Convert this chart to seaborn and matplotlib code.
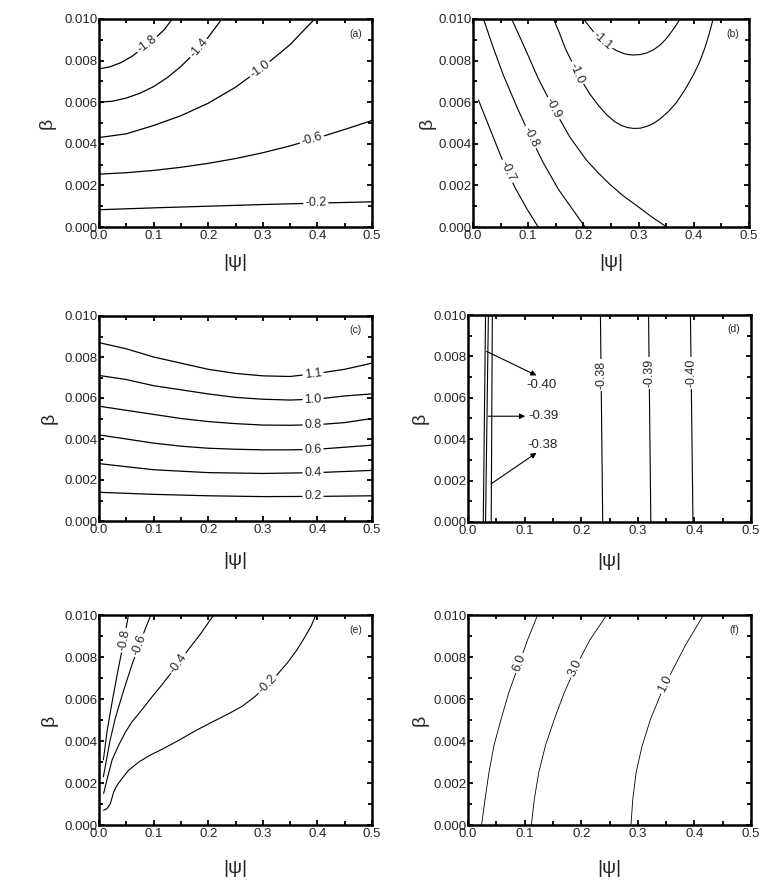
import numpy as np
import matplotlib
matplotlib.use("Agg")
import matplotlib.pyplot as plt
import seaborn as sns
from matplotlib.ticker import MultipleLocator

########
# Data #
########

# panel (a)
a_levels = ["-1.8", "-1.4", "-1.0", "-0.6", "-0.2"]
a_x = [
    [0.0, 0.02, 0.04, 0.06, 0.08, 0.10, 0.12, 0.134],
    [0.0, 0.025, 0.05, 0.075, 0.10, 0.125, 0.15, 0.175, 0.20, 0.225],
    [0.0, 0.05, 0.10, 0.15, 0.20, 0.25, 0.30, 0.35, 0.395],
    [0.0, 0.05, 0.10, 0.15, 0.20, 0.25, 0.30, 0.35, 0.40, 0.45, 0.50],
    [0.0, 0.10, 0.20, 0.30, 0.40, 0.50],
]
a_y = [
    [0.0076, 0.0077, 0.0079, 0.0082, 0.0086, 0.0090, 0.0095, 0.0100],
    [0.0060, 0.00605, 0.0062, 0.00643, 0.00675, 0.00718, 0.00772, 0.00836, 0.00912, 0.0100],
    [0.0043, 0.00448, 0.00488, 0.00535, 0.00595, 0.00672, 0.00768, 0.00877, 0.0100],
    [0.00254, 0.00261, 0.00272, 0.00287, 0.00306, 0.00329, 0.00357, 0.0039, 0.00428, 0.00469, 0.00512],
    [0.00083, 0.00092, 0.00100, 0.00108, 0.00115, 0.00121],
]

# panel (b)
b_levels = ["-0.7", "-0.8", "-0.9", "-1.0", "-1.1"]
b_x = [
    [0.010, 0.025, 0.049, 0.062, 0.076, 0.097, 0.118],
    [0.019, 0.037, 0.055, 0.079, 0.103, 0.127, 0.155, 0.179, 0.203],
    [0.070, 0.094, 0.118, 0.146, 0.176, 0.206, 0.227, 0.248, 0.272, 0.297, 0.324, 0.351],
    [0.146, 0.157, 0.167, 0.178, 0.188, 0.200, 0.212, 0.227, 0.242, 0.256, 0.269, 0.280, 0.291,
     0.303, 0.315, 0.327, 0.339, 0.354, 0.369, 0.384, 0.399, 0.410, 0.420, 0.428, 0.435],
    [0.200, 0.212, 0.224, 0.236, 0.248, 0.260, 0.272, 0.281, 0.291, 0.303, 0.315, 0.327, 0.339,
     0.350, 0.360, 0.368, 0.375],
]
b_y = [
    [0.0061, 0.0051, 0.0035, 0.0027, 0.0019, 0.0009, 0.0],
    [0.0100, 0.0086, 0.0073, 0.0058, 0.0044, 0.0031, 0.0018, 0.0009, 0.0],
    [0.0100, 0.0086, 0.00715, 0.0057, 0.0043, 0.0032, 0.0026, 0.00205, 0.0015, 0.00102, 0.00048, 0.0],
    [0.0100, 0.0093, 0.0086, 0.0080, 0.0074, 0.0069, 0.00638, 0.00585, 0.0054, 0.00508, 0.00488,
     0.00478, 0.00474, 0.00475, 0.00484, 0.00498, 0.0052, 0.00555, 0.0060, 0.0066, 0.0073, 0.0079,
     0.0086, 0.0093, 0.0100],
    [0.0100, 0.0096, 0.0092, 0.00892, 0.00867, 0.00848, 0.00835, 0.00829, 0.00827, 0.00829,
     0.00837, 0.00852, 0.00875, 0.00905, 0.0094, 0.0097, 0.0100],
]

# panel (c)
c_levels = ["1.1", "1.0", "0.8", "0.6", "0.4", "0.2"]
c_x = [
    [0.0, 0.05, 0.10, 0.15, 0.20, 0.25, 0.30, 0.35, 0.40, 0.45, 0.50],
    [0.0, 0.05, 0.10, 0.15, 0.20, 0.25, 0.30, 0.35, 0.40, 0.45, 0.50],
    [0.0, 0.05, 0.10, 0.15, 0.20, 0.25, 0.30, 0.35, 0.40, 0.45, 0.50],
    [0.0, 0.05, 0.10, 0.15, 0.20, 0.25, 0.30, 0.35, 0.40, 0.45, 0.50],
    [0.0, 0.10, 0.20, 0.30, 0.40, 0.50],
    [0.0, 0.10, 0.20, 0.30, 0.40, 0.50],
]
c_y = [
    [0.0087, 0.0084, 0.0080, 0.0077, 0.0074, 0.0072, 0.00708, 0.00705, 0.0072, 0.0074, 0.0077],
    [0.0071, 0.0069, 0.0066, 0.0064, 0.0062, 0.00603, 0.00594, 0.0059, 0.00595, 0.0061, 0.0062],
    [0.0056, 0.0054, 0.0052, 0.0050, 0.00485, 0.00475, 0.00468, 0.00467, 0.0047, 0.0048, 0.0050],
    [0.0042, 0.0040, 0.0038, 0.00365, 0.00355, 0.0035, 0.00347, 0.00347, 0.0035, 0.0036, 0.0037],
    [0.0028, 0.0025, 0.00236, 0.00232, 0.00236, 0.00247],
    [0.0014, 0.0013, 0.00123, 0.00119, 0.0012, 0.00123],
]

# panel (d)
d_levels = ["-0.40", "-0.39", "-0.38", "-0.38", "-0.39", "-0.40"]
d_x = [
    [0.027, 0.031],
    [0.031, 0.036],
    [0.041, 0.043],
    [0.238, 0.234],
    [0.323, 0.319],
    [0.3975, 0.393],
]
d_y = [
    [0.0, 0.010],
    [0.0, 0.010],
    [0.0, 0.010],
    [0.0, 0.010],
    [0.0, 0.010],
    [0.0, 0.010],
]

# panel (e)
e_levels = ["-0.8", "-0.6", "-0.4", "-0.2"]
e_x = [
    [0.008, 0.015, 0.025, 0.035, 0.045, 0.054],
    [0.008, 0.020, 0.030, 0.045, 0.060, 0.075, 0.095],
    [0.0085, 0.015, 0.024, 0.036, 0.048, 0.060, 0.079, 0.097, 0.116, 0.140, 0.162, 0.186, 0.210],
    [0.0085, 0.0147, 0.0208, 0.0269, 0.033, 0.042, 0.054, 0.073, 0.091, 0.115, 0.146, 0.176,
     0.207, 0.2375, 0.262, 0.285, 0.305, 0.325, 0.345, 0.362, 0.377, 0.389, 0.397],
]
e_y = [
    [0.0031, 0.0045, 0.0060, 0.0074, 0.0087, 0.0100],
    [0.0023, 0.0040, 0.0051, 0.0064, 0.0076, 0.0087, 0.0100],
    [0.0015, 0.0022, 0.0031, 0.0038, 0.0044, 0.0049, 0.0055, 0.0061, 0.0067, 0.0075, 0.0083,
     0.0091, 0.0100],
    [0.0007, 0.00078, 0.00102, 0.00157, 0.00189, 0.00221, 0.0026, 0.0030, 0.00329, 0.0036,
     0.00403, 0.00448, 0.0049, 0.0053, 0.00565, 0.0061, 0.00658, 0.00712, 0.00772, 0.00832,
     0.00895, 0.0095, 0.0100],
]

# panel (f)
f_levels = ["6.0", "3.0", "1.0"]
f_x = [
    [0.024, 0.030, 0.037, 0.046, 0.058, 0.072, 0.088, 0.105, 0.123],
    [0.112, 0.117, 0.125, 0.137, 0.152, 0.170, 0.190, 0.215, 0.245],
    [0.288, 0.291, 0.297, 0.307, 0.322, 0.340, 0.360, 0.385, 0.416],
]
f_y = [
    [0.0, 0.0012, 0.0025, 0.0038, 0.0050, 0.0063, 0.0075, 0.0088, 0.0100],
    [0.0, 0.0012, 0.0025, 0.0038, 0.0050, 0.0063, 0.0075, 0.0088, 0.0100],
    [0.0, 0.0012, 0.0025, 0.0037, 0.0050, 0.0062, 0.0073, 0.0086, 0.0100],
]

##########
# Layout #
##########

W, H = 769, 893

# axes boxes in pixels: left, top, right, bottom
BOXES = {
    "a": (99, 19, 372, 227),
    "b": (473, 19, 749, 227),
    "c": (99, 316, 372, 521),
    "d": (468, 315, 751, 522),
    "e": (99, 615, 372, 825),
    "f": (468, 615, 751, 825),
}

# pixel gaps from the axes to the x label top and y label right edge
XLAB_GAP = {"a": 27, "b": 27, "c": 31, "d": 31, "e": 35, "f": 35}
YLAB_GAP = {"a": 43, "b": 37, "c": 41, "d": 39, "e": 41, "f": 39}

# where each inline label sits (near this point on the curve)
LABEL_AT = {
    "a": [(0.082, 0.0090), (0.178, 0.0087), (0.294, 0.0076), (0.389, 0.0043), (0.397, 0.00117)],
    "b": [(0.064, 0.0027), (0.103, 0.0043), (0.1455, 0.0057), (0.188, 0.0074), (0.236, 0.0090)],
    "c": [(0.392, 0.0072), (0.392, 0.0060), (0.392, 0.0047), (0.392, 0.0035), (0.392, 0.0024), (0.392, 0.0012)],
    "d": [None, None, None, (0.236, 0.0071), (0.321, 0.0072), (0.395, 0.0072)],
    "e": [(0.045, 0.0088), (0.0696, 0.0086), (0.14, 0.0078), (0.3046, 0.0068)],
    "f": [(0.092, 0.0077), (0.204, 0.0073), (0.357, 0.0066)],
}

# arrow call-outs of panel (d): text, arrow tail, arrow head, text left/centre
D_ARROWS = [
    ("-0.40", (0.033, 0.00824), (0.121, 0.00708), (0.104, 0.0066)),
    ("-0.39", (0.036, 0.00511), (0.101, 0.00511), (0.106, 0.00511)),
    ("-0.38", (0.0406, 0.00184), (0.121, 0.00334), (0.105, 0.00372)),
]

#############
# Functions #
#############


def label_line(ax, xs, ys, text, at):
    """Put an inline contour label on the polyline, aligned with it."""
    pts = ax.transData.transform(np.column_stack([xs, ys]))
    target = ax.transData.transform(at)
    best = None
    for i in range(len(pts) - 1):
        p0, p1 = pts[i], pts[i + 1]
        seg = p1 - p0
        t = np.clip(np.dot(target - p0, seg) / np.dot(seg, seg), 0, 1)
        proj = p0 + t * seg
        d = np.hypot(*(target - proj))
        if best is None or d < best[0]:
            best = (d, proj, seg)
    _, proj, seg = best
    angle = np.degrees(np.arctan2(seg[1], seg[0]))
    if angle > 90:
        angle -= 180
    elif angle <= -90:
        angle += 180
    if angle < -85:
        angle += 180
    pos = ax.transData.inverted().transform(proj)
    ax.text(
        pos[0], pos[1], text, rotation=angle, rotation_mode="anchor",
        ha="center", va="center", fontsize=9, zorder=5,
        bbox=dict(boxstyle="square,pad=0.15", fc="white", ec="none"),
    )


def style_axes(ax, tag, box):
    ax.set_xlim(0, 0.5)
    ax.set_ylim(0, 0.010)
    ax.xaxis.set_major_locator(MultipleLocator(0.1))
    ax.xaxis.set_minor_locator(MultipleLocator(0.05))
    ax.yaxis.set_major_locator(MultipleLocator(0.002))
    ax.yaxis.set_minor_locator(MultipleLocator(0.001))
    ax.xaxis.set_major_formatter(lambda v, p: f"{v:.1f}")
    ax.yaxis.set_major_formatter(lambda v, p: f"{v:.3f}")
    ax.tick_params(which="both", direction="in", top=True, right=True,
                   width=1.3, labelsize=9.5, color="black")
    ax.tick_params(which="major", length=3.5)
    ax.tick_params(which="minor", length=3)
    ax.tick_params(axis="x", which="major", pad=2.5)
    ax.tick_params(axis="y", which="major", pad=1)
    for s in ax.spines.values():
        s.set_linewidth(1.8)
        s.set_color("black")
    ax.set_xlabel("|ψ|", fontsize=14)
    ax.set_ylabel("β", fontsize=14)
    w = box[2] - box[0]
    h = box[3] - box[1]
    ax.xaxis.set_label_coords(0.5, -XLAB_GAP[tag] / h)
    ax.yaxis.set_label_coords(-YLAB_GAP[tag] / w, 0.5)
    ax.text(0.94, 0.93, f"({tag})", transform=ax.transAxes, fontsize=7.5,
            ha="center", va="center")


########
# Plot #
########

sns.set_theme(style="ticks")
plt.rcParams["font.family"] = ["Liberation Sans", "DejaVu Sans"]
plt.rcParams["axes.unicode_minus"] = False

fig = plt.figure(figsize=(W / 100, H / 100), dpi=100)
fig.patch.set_facecolor("white")

panels = {
    "a": (a_levels, a_x, a_y, 0.9),
    "b": (b_levels, b_x, b_y, 0.8),
    "c": (c_levels, c_x, c_y, 0.9),
    "d": (d_levels, d_x, d_y, 0.8),
    "e": (e_levels, e_x, e_y, 0.8),
    "f": (f_levels, f_x, f_y, 0.6),
}

for tag, (levels, xs_list, ys_list, lw) in panels.items():
    box = BOXES[tag]
    ax = fig.add_axes([box[0] / W, 1 - box[3] / H,
                       (box[2] - box[0]) / W, (box[3] - box[1]) / H])
    ax.set_facecolor("white")
    for xs, ys in zip(xs_list, ys_list):
        sns.lineplot(x=xs, y=ys, sort=False, estimator=None,
                     color="black", lw=lw, ax=ax)
    style_axes(ax, tag, box)
    for xs, ys, text, at in zip(xs_list, ys_list, levels, LABEL_AT[tag]):
        if at is not None:
            label_line(ax, xs, ys, text, at)
    if tag == "d":
        for text, tail, head, tpos in D_ARROWS:
            ax.annotate("", xy=head, xytext=tail,
                        arrowprops=dict(arrowstyle="-|>", color="black",
                                        lw=0.8, mutation_scale=8,
                                        shrinkA=0, shrinkB=0))
            ax.text(tpos[0], tpos[1], text, fontsize=9.5,
                    ha="left", va="center")

fig.savefig("out.png", dpi=100)
plt.close(fig)
